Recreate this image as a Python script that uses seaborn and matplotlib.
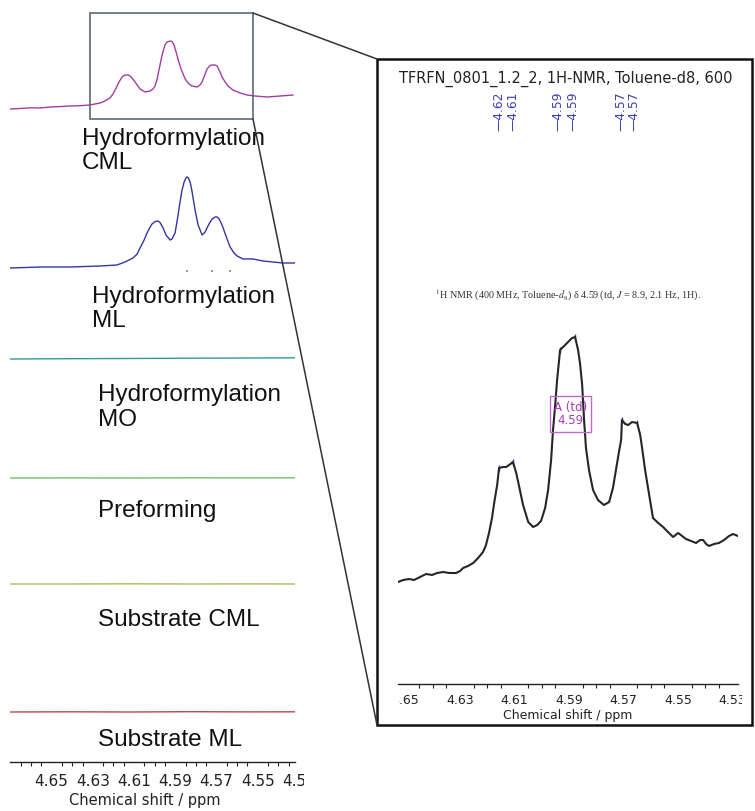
import numpy as np
import pandas as pd
import matplotlib
matplotlib.use("Agg")
import matplotlib.pyplot as plt
import seaborn as sns
from matplotlib.patches import Rectangle
from matplotlib.lines import Line2D
from matplotlib.transforms import Bbox, TransformedBbox, blended_transform_factory

# ---------------- data ----------------
cml_ppm = [4.6702, 4.6653, 4.6605, 4.6556, 4.6508, 4.6459, 4.6411, 4.6362, 4.6314, 4.6265,
           4.6241, 4.6217, 4.6202, 4.6187, 4.6173, 4.6158, 4.6149, 4.6139, 4.6129, 4.6119,
           4.6110, 4.6095, 4.6071, 4.6047, 4.6022, 4.6008, 4.5998, 4.5988, 4.5974, 4.5964,
           4.5950, 4.5940, 4.5925, 4.5916, 4.5906, 4.5896, 4.5887, 4.5872, 4.5852, 4.5833,
           4.5819, 4.5794, 4.5780, 4.5770, 4.5755, 4.5746, 4.5731, 4.5721, 4.5707, 4.5697,
           4.5683, 4.5673, 4.5658, 4.5644, 4.5620, 4.5585, 4.5552, 4.5513, 4.5454, 4.5391,
           4.5328]
cml_int = [0, 0.5, 1.2, 1.0, 2.0, 2.4, 3.0, 3.3, 4.0, 6,
           8, 11, 15, 21, 27, 32, 33.5, 34, 34, 33,
           31, 27, 20, 17, 18, 20, 23, 30, 44, 54,
           64, 67, 68, 67.5, 64, 57, 50, 40, 30, 25,
           23, 22, 24, 27, 35, 40, 43.5, 44, 44, 43,
           37, 32, 27, 23, 19, 16, 14, 13, 12, 13,
           14]

ml_ppm = [4.6702, 4.6556, 4.6411, 4.6265, 4.6183, 4.6144, 4.6105, 4.6085, 4.6071, 4.6051,
          4.6037, 4.6022, 4.6013, 4.5998, 4.5984, 4.5974, 4.5959, 4.5945, 4.5925, 4.5916,
          4.5901, 4.5887, 4.5877, 4.5867, 4.5857, 4.5848, 4.5843, 4.5838, 4.5828, 4.5819,
          4.5804, 4.5789, 4.5770, 4.5755, 4.5746, 4.5731, 4.5721, 4.5707, 4.5697, 4.5687,
          4.5673, 4.5654, 4.5634, 4.5615, 4.5600, 4.5571, 4.5522, 4.5474, 4.5377, 4.5318]
ml_int = [0, 1, 1, 2, 3, 6, 10, 14, 20, 28,
          35, 41, 44, 46.5, 47, 45.5, 40, 33, 28, 29,
          35, 52, 66, 78, 86, 90, 91, 90.5, 86, 77,
          58, 43, 33, 36, 40, 46, 49, 51, 51, 49,
          43, 32, 21, 15, 12, 9, 9, 7, 5, 5]
ml_marks_ppm = [4.5843, 4.5721, 4.5634]
ml_marks_int = [-3, -3, -3]

flat_ppm = [4.6702, 4.6411, 4.6120, 4.5828, 4.5537, 4.5318]
mo_int = [0.0, 0.3, 0.5, 0.8, 1.0, 1.2]
pref_int = [0.0, 0.1, 0.0, 0.2, 0.1, 0.2]
subcml_int = [0.0, 0.0, 0.2, 0.0, 0.1, 0.0]
subml_int = [0.0, 0.2, 0.0, 0.3, 0.1, 0.2]

trace_names = ["Hydroformylation\nCML", "Hydroformylation\nML", "Hydroformylation\nMO",
               "Preforming", "Substrate CML", "Substrate ML"]
left_ticks = [4.65, 4.63, 4.61, 4.59, 4.57, 4.55]
left_cut_tick = 4.53

zoom_ppm = [4.6528, 4.6509, 4.6487, 4.6469, 4.6447, 4.6425, 4.6403, 4.6384, 4.6362, 4.6340,
            4.6315, 4.6300, 4.6289, 4.6271, 4.6252, 4.6234, 4.6216, 4.6205, 4.6194, 4.6183,
            4.6175, 4.6164, 4.6157, 4.6142, 4.6131, 4.6120, 4.6106, 4.6094, 4.6083, 4.6069,
            4.6050, 4.6032, 4.6017, 4.6003, 4.5988, 4.5977, 4.5966, 4.5959, 4.5951, 4.5944,
            4.5933, 4.5918, 4.5904, 4.5889, 4.5878, 4.5867, 4.5860, 4.5852, 4.5845, 4.5838,
            4.5827, 4.5812, 4.5794, 4.5772, 4.5753, 4.5739, 4.5728, 4.5717, 4.5709, 4.5706,
            4.5694, 4.5683, 4.5669, 4.5650, 4.5639, 4.5632, 4.5621, 4.5606, 4.5592, 4.5573,
            4.5555, 4.5537, 4.5518, 4.5500, 4.5485, 4.5471, 4.5452, 4.5434, 4.5419, 4.5408,
            4.5397, 4.5386, 4.5368, 4.5350, 4.5331, 4.5313, 4.5298, 4.5280]
zoom_int = [0, 2, 3, 2, 5, 8, 7, 9, 10, 9,
            9, 11, 14, 16, 19, 24, 30, 37, 49, 64,
            79, 97, 114, 115, 115, 117, 120, 109, 95, 77,
            60, 55, 57, 61, 74, 92, 122, 152, 177, 202,
            232, 236, 240, 244, 245, 232, 219, 197, 162, 134,
            112, 92, 82, 77, 80, 94, 112, 130, 142, 162,
            158, 157, 160, 159, 147, 134, 112, 87, 64, 59,
            55, 50, 45, 49, 46, 43, 41, 39, 42, 42,
            38, 36, 38, 39, 42, 46, 48, 46]
pick_ppm = [4.6157, 4.6106, 4.5933, 4.5878, 4.5706, 4.5650]
pick_int = [114, 120, 232, 245, 162, 159]
pick_label_ppm = [4.6157, 4.6106, 4.5940, 4.5885, 4.5709, 4.5661]
pick_labels = ["4.62", "4.61", "4.59", "4.59", "4.57", "4.57"]
right_ticks = [4.65, 4.63, 4.61, 4.59, 4.57, 4.55, 4.53]
zoom_title = "TFRFN_0801_1.2_2, 1H-NMR, Toluene-d8, 600"
multiplet_label = "A (td)\n4.59"
multiplet_ppm = 4.5895
citation = r"$^{1}$H NMR (400 MHz, Toluene-$d_8$) δ 4.59 (td, $J$ = 8.9, 2.1 Hz, 1H)."
xlabel = "Chemical shift / ppm"

# ---------------- style ----------------
sns.set_theme(style="white")
plt.rcParams["font.family"] = ["DejaVu Sans"]
plt.rcParams["mathtext.fontset"] = "stix"
plt.rcParams["lines.solid_joinstyle"] = "round"

W, H = 755, 811
fig = plt.figure(figsize=(W / 100, H / 100), dpi=100)
fig.patch.set_facecolor("white")


def frect(x0, y0, x1, y1):
    return [x0 / W, 1 - y1 / H, (x1 - x0) / W, (y1 - y0) / H]


def fx(x):
    return x / W


def fy(y):
    return 1 - y / H


# ---------------- left stacked panel ----------------
LAX_BOTTOM = 762
axl = fig.add_axes(frect(10, 0, 295, LAX_BOTTOM))
axl.set_facecolor("none")
axl.set_xlim(4.6702, 4.5319)
axl.set_ylim(0, LAX_BOTTOM)

offsets = [LAX_BOTTOM - 109, LAX_BOTTOM - 268, LAX_BOTTOM - 359,
           LAX_BOTTOM - 478, LAX_BOTTOM - 584, LAX_BOTTOM - 712]
colors = ["#a23da6", "#3535a5", "#2f9a9a", "#6cc06c", "#b5b55c", "#c0464e"]
series = [(cml_ppm, cml_int), (ml_ppm, ml_int), (flat_ppm, mo_int),
          (flat_ppm, pref_int), (flat_ppm, subcml_int), (flat_ppm, subml_int)]
for (px, iy), off, c in zip(series, offsets, colors):
    df = pd.DataFrame({"ppm": px, "y": np.asarray(iy, float) + off})
    sns.lineplot(data=df, x="ppm", y="y", ax=axl, color=c, lw=1.0,
                 sort=False, estimator=None)
sns.scatterplot(x=ml_marks_ppm, y=np.asarray(ml_marks_int, float) + offsets[1], ax=axl,
                color="#999999", s=3, marker="s", linewidth=0)

for s in ["top", "left", "right"]:
    axl.spines[s].set_visible(False)
axl.spines["bottom"].set_color("#222222")
axl.spines["bottom"].set_linewidth(1.0)
axl.set_yticks([])
axl.set_xticks(left_ticks)
axl.set_xticklabels([f"{t:.2f}" for t in left_ticks])
axl.set_xticks(np.arange(4.665, 4.532, -0.005), minor=True)
axl.tick_params(axis="x", which="major", direction="out", length=4, width=0.8,
                color="#222222", labelsize=11, pad=5, labelcolor="#222222")
axl.tick_params(axis="x", which="minor", direction="out", length=3, width=0.8,
                color="#222222", bottom=True)
axl.set_xlabel("")
axl.set_ylabel("")

label_pos = [(82, 151), (92, 309), (98, 407.5), (98, 511), (98, 620), (98, 740)]
for name, (lx, ly) in zip(trace_names, label_pos):
    fig.text(fx(lx), fy(ly), name, ha="left", va="center", fontsize=17.5,
             family=["Liberation Sans", "DejaVu Sans"], color="#111111",
             linespacing=1.15)

fig.text(fx(145), fy(800), xlabel, ha="center", va="center", fontsize=10.5, color="#222222")

# ---------------- right zoom panel ----------------
RAX_BOTTOM = 684
BOX_BOTTOM = 725
axr = fig.add_axes(frect(398, 100, 738, RAX_BOTTOM))
axr.set_facecolor("none")
axr.set_xlim(4.6528, 4.5280)
axr.set_ylim(0, RAX_BOTTOM - 100)
zoff = RAX_BOTTOM - 582
dfz = pd.DataFrame({"ppm": zoom_ppm, "y": np.asarray(zoom_int, float) + zoff})
sns.lineplot(data=dfz, x="ppm", y="y", ax=axr, color="#262626", lw=1.5,
             sort=False, estimator=None)
sns.scatterplot(x=pick_ppm, y=np.asarray(pick_int, float) + zoff, ax=axr,
                color="#3a3acc", marker="|", s=20, linewidth=1.0)
for s in ["top", "left", "right"]:
    axr.spines[s].set_visible(False)
axr.spines["bottom"].set_color("#222222")
axr.spines["bottom"].set_linewidth(1.0)
axr.set_yticks([])
axr.set_xticks(right_ticks)
axr.set_xticklabels([f"{t:.2f}" for t in right_ticks])
axr.set_xticks(np.arange(4.65, 4.527, -0.005), minor=True)
axr.tick_params(axis="x", which="major", direction="out", length=4, width=0.8,
                color="#222222", labelsize=9, pad=3, labelcolor="#222222")
axr.tick_params(axis="x", which="minor", direction="out", length=3, width=0.8,
                color="#222222", bottom=True)
axr.set_xlabel("")
axr.set_ylabel("")

for p, lab in zip(pick_label_ppm, pick_labels):
    axr.text(p, RAX_BOTTOM - 131, "\u2014" + lab, rotation=90, ha="center", va="bottom",
             fontsize=8.8, color="#3c3cb4")

axr.text(multiplet_ppm, RAX_BOTTOM - 414, multiplet_label, ha="center", va="center",
         fontsize=8.5, color="#a53cb8", linespacing=1.1,
         bbox=dict(boxstyle="square,pad=0.35", fc="none", ec="#c266d2", lw=1.0))

fig.text(fx(566), fy(79), zoom_title, ha="center", va="center", fontsize=10.5, color="#222222")
fig.text(fx(568), fy(295), citation, ha="center", va="center", fontsize=7.3,
         family=["Liberation Serif", "DejaVu Serif"], color="#333333")
fig.text(fx(568), fy(715), xlabel, ha="center", va="center", fontsize=9, color="#222222")

# ---------------- frames & connectors ----------------
fig.add_artist(Rectangle((fx(90), fy(119)), (253 - 90) / W, (119 - 13) / H,
                         transform=fig.transFigure, fill=False, ec="#5a6878", lw=1.2))
fig.add_artist(Rectangle((fx(377), fy(BOX_BOTTOM)), (752 - 377) / W, (BOX_BOTTOM - 59) / H,
                         transform=fig.transFigure, fill=False, ec="#111111", lw=1.8))
fig.add_artist(Line2D([fx(253), fx(377)], [fy(13), fy(59)], transform=fig.transFigure,
                      color="#333333", lw=1.1))
fig.add_artist(Line2D([fx(253), fx(377)], [fy(119), fy(BOX_BOTTOM)],
                      transform=fig.transFigure, color="#333333", lw=1.1))

# ---------------- clipping of cut tick labels ----------------
fig.canvas.draw()
left_clip = TransformedBbox(Bbox.from_extents(0, 0, 304 / W, 1), fig.transFigure)
right_clip = TransformedBbox(Bbox.from_extents(399 / W, 0, 742 / W, 1), fig.transFigure)
for t in axl.xaxis.get_major_ticks():
    t.label1.set_clip_box(left_clip)
    t.label1.set_clip_on(True)
for t in axr.xaxis.get_major_ticks():
    t.label1.set_clip_box(right_clip)
    t.label1.set_clip_on(True)

bt = blended_transform_factory(axl.transData, fig.transFigure)
bb = axl.get_xticklabels()[0].get_window_extent()
cy = (bb.y0 + bb.y1) / 2 / fig.bbox.height
extra = axl.text(left_cut_tick, cy, f"{left_cut_tick:.2f}", transform=bt, ha="center",
                 va="center", fontsize=11, color="#222222", clip_on=True)
extra.set_clip_box(left_clip)

fig.savefig("out.png", dpi=100, facecolor="white")
